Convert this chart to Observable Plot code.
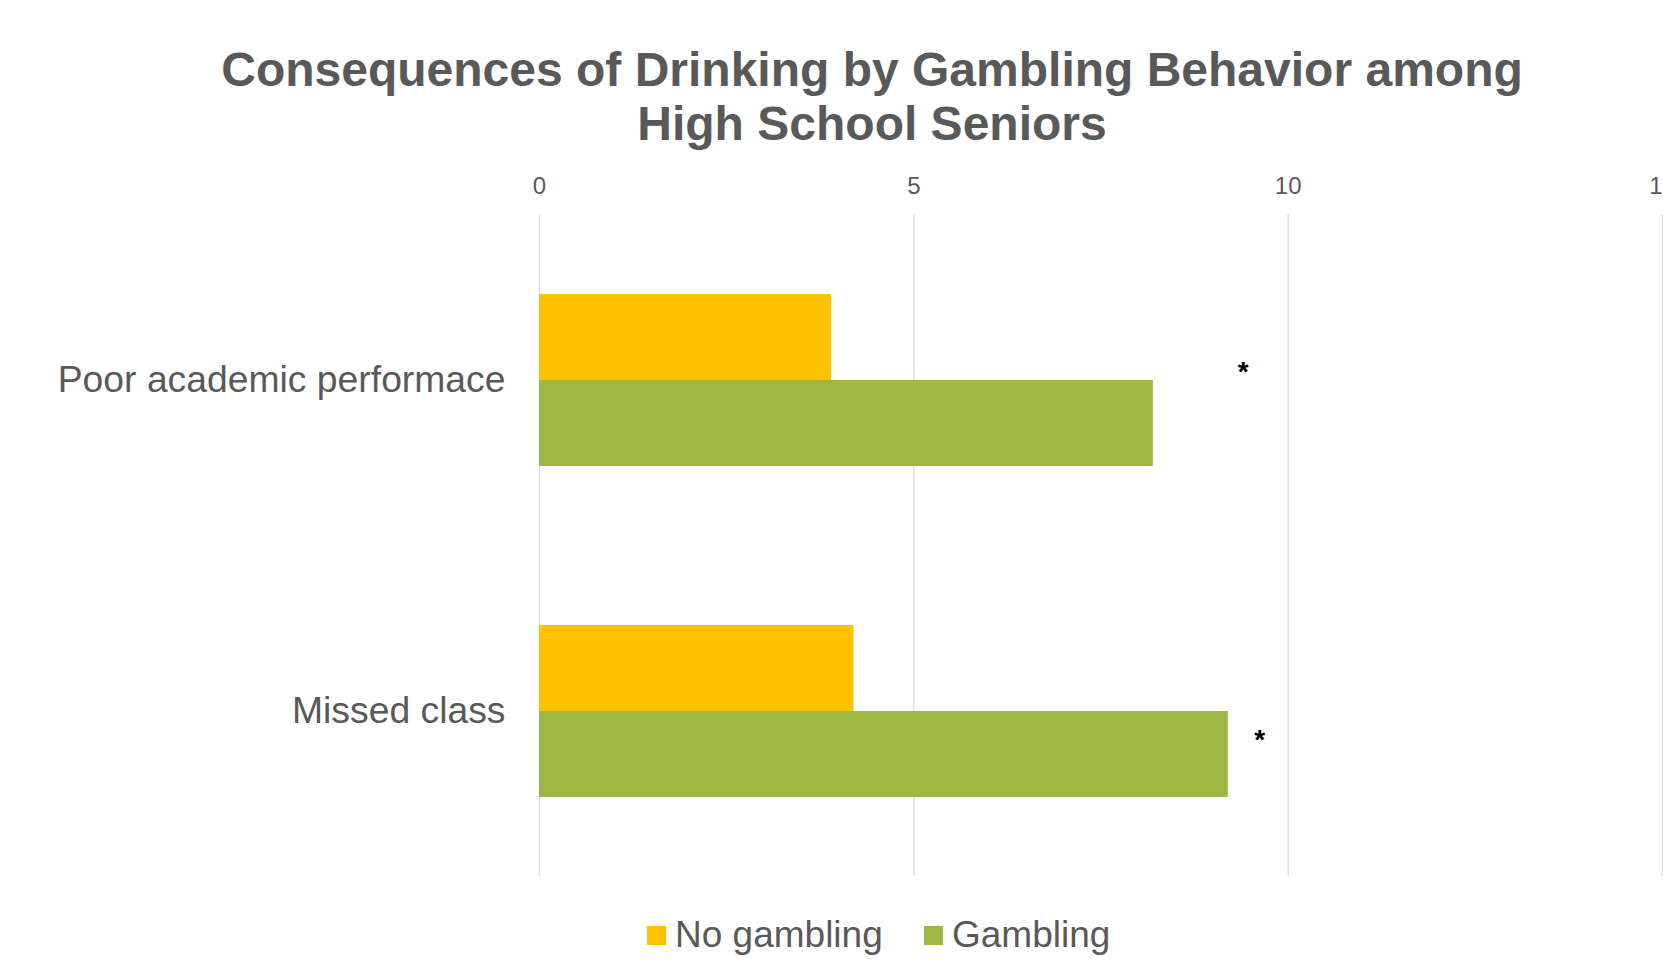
<!DOCTYPE html>
<html><head><meta charset="utf-8">
<script src="https://cdn.jsdelivr.net/npm/d3@7"></script>
<script src="https://cdn.jsdelivr.net/npm/@observablehq/plot@0.6"></script>
<style>
html,body{margin:0;padding:0;background:#fff;overflow:hidden;}
#wrap{position:relative;width:1663px;height:969px;font-family:"Liberation Sans",Arial,sans-serif;color:#595959;}
#title{position:absolute;top:43px;left:81px;width:1582px;text-align:center;font-weight:bold;font-size:48px;line-height:54px;}
#chart{position:absolute;top:150px;left:0;}
#legend{position:absolute;top:912px;left:0;width:1663px;height:46px;font-size:37px;}
.item{position:absolute;top:0;display:flex;align-items:center;height:46px;white-space:nowrap;}
.sw{width:19px;height:19px;margin-right:9px;flex:none;}
</style></head>
<body>
<div id="wrap">
  <div id="title">Consequences of Drinking by Gambling Behavior among<br>High School Seniors</div>
  <div id="chart"></div>
  <div id="legend"></div>
</div>
<script>
const categories = ["Poor academic performace", "Missed class"];
const series = ["No gambling", "Gambling"];
const noGambling = [3.9, 4.2];
const gambling = [8.2, 9.2];
const xTicks = [0, 5, 10, 15];
const starX = [9.4, 9.62];
const colors = ["#FFC000", "#9CB842"];

const data = categories.flatMap((c, i) => [
  {category: c, series: series[0], value: noGambling[i]},
  {category: c, series: series[1], value: gambling[i]}
]);
const stars = categories.map((c, i) => ({category: c, x: starX[i], label: "*"}));

const starStyle = {fy: "category", x: "x", text: "label", fill: "#000", fontSize: 28, fontWeight: "bold", lineAnchor: "middle", textAnchor: "middle"};

const chart = Plot.plot({
  width: 1663,
  height: 760,
  marginLeft: 539,
  marginRight: 1,
  marginTop: 63,
  marginBottom: 34,
  x: {domain: [0, 15], label: null},
  y: {domain: series, paddingInner: 0, paddingOuter: 0.916, axis: null, label: null},
  fy: {domain: categories, padding: 0, label: null},
  color: {domain: series, range: colors},
  style: {color: "#595959", fontFamily: "'Liberation Sans', Arial, sans-serif", fontSize: "24px", background: "transparent", overflow: "visible"},
  marks: [
    Plot.ruleX(xTicks, {stroke: "#d9d9d9", strokeWidth: 1.3}),
    Plot.axisX(xTicks, {anchor: "top", tickSize: 0, tickPadding: 21, fontSize: 24, label: null, tickFormat: d => String(d)}),
    Plot.axisFy({anchor: "left", tickSize: 0, tickPadding: 34, fontSize: 37.3, label: null, dy: 0}),
    Plot.barX(data, {fy: "category", y: "series", x: "value", fill: "series"}),
    Plot.text([stars[0]], {...starStyle, y: d => series[0], dy: 35}),
    Plot.text([stars[1]], {...starStyle, y: d => series[1], dy: -14})
  ]
});
document.getElementById("chart").appendChild(chart);

const legend = document.getElementById("legend");
const lefts = [647, 924];
series.forEach((s, i) => {
  const item = document.createElement("div");
  item.className = "item";
  item.style.left = lefts[i] + "px";
  const sw = document.createElement("div");
  sw.className = "sw";
  sw.style.background = colors[i];
  const t = document.createElement("span");
  t.textContent = s;
  item.appendChild(sw);
  item.appendChild(t);
  legend.appendChild(item);
});
</script>
</body></html>
